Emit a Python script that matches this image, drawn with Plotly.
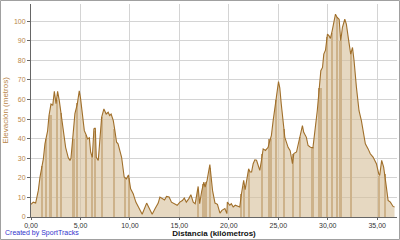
import plotly.graph_objects as go

dist_km = [0.0, 0.23, 0.47, 0.74, 0.91, 1.25, 1.41, 1.68, 1.82, 2.02, 2.2, 2.36, 2.53, 2.69, 2.86, 3.03, 3.27, 3.5, 3.77, 3.94,
           4.04, 4.28, 4.44, 4.68, 4.88, 5.0, 5.18, 5.39, 5.57, 5.72, 5.9, 6.03, 6.2, 6.36, 6.5, 6.6, 6.8, 6.97, 7.14, 7.37,
           7.6, 7.8, 7.95, 8.1, 8.32, 8.48, 8.65, 8.8, 9.16, 9.42, 9.65, 9.85, 10.07, 10.33, 10.6, 10.94, 11.24, 11.69, 12.0, 12.25,
           12.55, 12.86, 13.03, 13.3, 13.5, 13.7, 13.96, 14.2, 14.55, 14.78, 15.05, 15.3, 15.5, 15.7, 15.96, 16.16, 16.4, 16.6, 16.9, 17.05,
           17.25, 17.47, 17.6, 17.8, 18.08, 18.2, 18.35, 18.6, 18.85, 19.1, 19.3, 19.6, 19.8, 19.85, 20.1, 20.25, 20.44, 20.65, 20.9, 21.1,
           21.28, 21.5, 21.65, 21.8, 22.0, 22.15, 22.3, 22.46, 22.63, 22.8, 23.0, 23.13, 23.3, 23.47, 23.7, 23.97, 24.1, 24.3, 24.48, 24.65,
           24.8, 25.02, 25.15, 25.3, 25.48, 25.66, 25.99, 26.2, 26.43, 26.57, 26.84, 27.07, 27.27, 27.44, 27.57, 27.84, 28.01, 28.25, 28.5, 28.72,
           28.94, 29.12, 29.3, 29.47, 29.6, 29.77, 29.97, 30.13, 30.27, 30.44, 30.6, 30.78, 30.95, 31.15, 31.31, 31.48, 31.72, 31.88, 32.12, 32.32,
           32.5, 32.66, 32.9, 33.16, 33.4, 33.55, 33.8, 34.08, 34.3, 34.58, 34.92, 35.15, 35.25, 35.45, 35.65, 35.86, 36.1, 36.33, 36.6, 36.75]
elev_m = [6.5, 7.6, 7.1, 13.6, 20.4, 29.7, 37.4, 44, 51.8, 57.7, 57, 64.2, 57.9, 64.2, 59.4, 52.6, 42.5, 35.6, 30.2, 28.9,
          30, 42.5, 52.8, 57.7, 64.5, 61, 52.6, 44.1, 42, 39.9, 40.5, 33.1, 30.5, 45, 45.5, 30.5, 28.9, 39.9, 50.9, 55.2,
          52.6, 53.5, 51.8, 52.6, 49.2, 44.1, 38.2, 37.4, 30.5, 20.4, 19.5, 21.5, 14.4, 11.9, 7.6, 4.3, 1.4, 7.1, 4.3, 1.4,
          4.3, 7.1, 10.2, 9.5, 8.7, 10.5, 10.2, 7.6, 6.5, 6.0, 7.6, 8.4, 9.7, 7.6, 9.4, 11.4, 7.6, 6.8, 15.6, 6.8,
          13, 17.8, 15.3, 18.7, 26.8, 22, 13.6, 7.1, 6.5, 2.0, 3.4, 4.3, 1.7, 7.6, 6.0, 6.8, 5.1, 6.0, 5.4, 5.1,
          11.9, 18.7, 14, 18.7, 24.6, 23, 23, 27.2, 29.2, 29, 25.5, 23.8, 28.9, 34.8, 34, 35.6, 38.2, 41.6, 49.2, 56.9,
          61, 69.2, 66, 57.7, 50, 40.7, 35.6, 33.9, 27.2, 32.4, 33.2, 38.2, 42.4, 46.7, 43.3, 40.7, 36.5, 35.6, 35.3, 44.1,
          54.3, 64.5, 74.7, 76.4, 83.2, 85.2, 93.4, 92.5, 91.2, 95, 99.3, 103.6, 101.9, 101, 90, 96.8, 101, 98.5, 90, 83.2,
          86.6, 79.8, 66.2, 54.3, 49.2, 45, 37.4, 34.8, 32.3, 30.6, 27.2, 22.1, 21.2, 28.9, 25.5, 17.8, 8.5, 7.6, 5.4, 5.1]

# darker shaded bands under the profile (km position, band width km, height m)
band_km = [1.15, 1.5, 1.95, 2.65, 3.0, 4.25, 4.7, 5.55, 6.15, 6.5, 7.2, 8.4, 9.5, 9.9,
           16.9, 17.45, 17.75, 18.1, 21.3, 21.55, 22.05, 23.4, 24.2, 24.75, 25.55, 26.55, 27.2,
           28.45, 29.2, 29.95, 30.4, 30.9, 31.3, 32.4, 35.2, 35.75]
band_w = [0.2, 0.15, 0.3, 0.18, 0.12, 0.3, 0.15, 0.18, 0.22, 0.18, 0.12, 0.22, 0.1, 0.1,
          0.15, 0.18, 0.18, 0.15, 0.15, 0.15, 0.18, 0.18, 0.4, 0.15, 0.12, 0.15, 0.15,
          0.3, 0.35, 0.15, 0.12, 0.12, 0.18, 0.12, 0.12, 0.12]
band_h = [26, 40, 52, 60, 53, 40, 58, 42, 31, 44, 51, 45, 20, 20,
          14, 17, 18, 25, 12, 16, 24, 32, 40, 60, 45, 32, 41,
          36, 66, 92, 94, 102, 90, 85, 21, 22]

x_ticks = [0, 5, 10, 15, 20, 25, 30, 35]
y_ticks = [0, 10, 20, 30, 40, 50, 60, 70, 80, 90, 100]

W, H = 400, 240
ML, MR, MT, MB = 31, 3, 4, 23
pw, ph = W - ML - MR, H - MT - MB

fig = go.Figure()
fig.add_trace(go.Bar(
    x=band_km, y=band_h, width=band_w, marker=dict(color="#c1a075", line=dict(width=0)),
    hoverinfo="skip", showlegend=False))
fig.add_trace(go.Scatter(
    x=dist_km, y=elev_m, mode="lines", fill="tozeroy",
    line=dict(color="#a06f2a", width=1.1),
    fillcolor="rgba(213,190,152,0.6)", hoverinfo="skip", showlegend=False))

fig.update_layout(
    width=W, height=H, margin=dict(l=ML, r=MR, t=MT, b=MB),
    paper_bgcolor="white", plot_bgcolor="white",
    separators=",.", bargap=0,
    font=dict(family="Liberation Sans", size=7, color="#333333"),
    xaxis=dict(range=[0, 37], tickvals=x_ticks, tickformat=".2f",
               showgrid=True, gridcolor="#d4d4d4", gridwidth=1,
               showline=True, linecolor="#666666", linewidth=1,
               ticks="outside", ticklen=2, tickcolor="#666666",
               tickfont=dict(size=7, color="#333333"), zeroline=False,
               title=dict(text="Distancia (kilómetros)", standoff=1,
                          font=dict(size=8, color="#111111", family="Liberation Sans", weight="bold"))),
    yaxis=dict(range=[0, 108.8], tickvals=y_ticks,
               showgrid=True, gridcolor="#d4d4d4", gridwidth=1,
               showline=True, linecolor="#666666", linewidth=1,
               ticks="outside", ticklen=3, tickcolor="#666666",
               tickfont=dict(size=7, color="#b8864a"), zeroline=False,
               title=dict(text="Elevación (metros)", standoff=4,
                          font=dict(size=8, color="#b8864a"))),
    shapes=[dict(type="rect", xref="paper", yref="paper",
                 x0=-(ML - 0.5) / pw, x1=1 + (MR - 0.5) / pw,
                 y0=-(MB - 0.5) / ph, y1=1 + (MT - 0.5) / ph,
                 line=dict(color="#a0a0a0", width=1), fillcolor="rgba(0,0,0,0)", layer="above")],
    annotations=[dict(text="Created by SportTracks", xref="paper", yref="paper",
                      x=-(ML - 3) / pw, y=-(MB - 1) / ph, xanchor="left", yanchor="bottom",
                      showarrow=False, font=dict(size=7, color="#3333cc", family="Liberation Sans"))],
)

fig.write_html("out.html")
